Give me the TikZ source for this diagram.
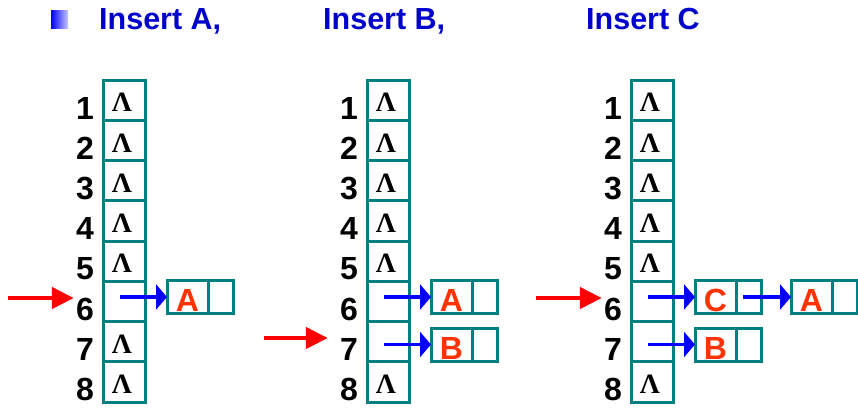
\documentclass[tikz,border=0pt]{standalone}
\usepackage{fontspec}
\setmainfont{Liberation Sans}
\newfontfamily\lamfont{Liberation Serif}
\usetikzlibrary{arrows.meta}
\definecolor{boxteal}{RGB}{0,128,128}
\definecolor{headblue}{RGB}{0,0,204}
\definecolor{keyred}{RGB}{255,51,0}
\definecolor{ptrblue}{RGB}{0,0,255}
\definecolor{ptrred}{RGB}{255,0,0}
\newcommand\nilmark{{\lamfont\bfseries Λ}}
\begin{document}
\begin{tikzpicture}[x=1pt,y=-1pt,
  slot/.style={draw=boxteal,line width=3pt,minimum width=42pt,minimum height=40.25pt,
    inner sep=0pt,outer sep=0pt},
  nilnode/.style={inner sep=0pt,text height=23.5pt,text depth=0pt,xshift=-2pt,
    font=\fontsize{28}{28}\selectfont},
  idx/.style={anchor=east,inner sep=0pt,font=\fontsize{32}{32}\selectfont\bfseries},
  keybox/.style={draw=boxteal,line width=3pt,minimum width=41pt,minimum height=33pt,
    inner sep=0pt,outer sep=0pt,anchor=west,text=keyred,text height=29pt,text depth=0pt,
    font=\fontsize{32}{32}\selectfont\bfseries},
  linkbox/.style={draw=boxteal,line width=3pt,minimum width=25pt,minimum height=33pt,
    inner sep=0pt,outer sep=0pt,anchor=west},
  bptr/.style={draw=ptrblue,line width=3.2pt,-{Triangle[length=11pt,width=25pt]}},
  rptr/.style={draw=ptrred,line width=4.5pt,-{Triangle[length=22pt,width=21pt]}},
  title/.style={anchor=base west,inner sep=0pt,text=headblue,
    font=\fontsize{30.5}{30.5}\selectfont\bfseries},
  bullet/.style={minimum width=17pt,minimum height=18pt,inner sep=0pt,
    left color=ptrblue,right color=ptrblue!22}]
\useasboundingbox (0,0) rectangle (858,407);

% headings
\node[bullet] (bul) at (59.5,19) {};
\node[title] (ta) at (99,29) {Insert A,};
\node[title] (tb) at (323,29) {Insert B,};
\node[title] (tc) at (586,29) {Insert C};

% hash tables with slot numbers
\foreach \c/\x in {a/124,b/388,c/652} {
  \foreach \i in {1,...,8} {
    \node[slot] (\c\i) at (\x,{80+40.25*(\i-0.5)}) {};
    \node[idx] (\c n\i) at ({\x-30},{80+40.25*(\i-0.5)+8}) {\i};
  }
}

% empty slot markers
\foreach \i in {1,2,3,4,5,7,8} \node[nilnode] (al\i) at (a\i) {\nilmark};
\foreach \i in {1,2,3,4,5,8} \node[nilnode] (bl\i) at (b\i) {\nilmark};
\foreach \i in {1,2,3,4,5,8} \node[nilnode] (cl\i) at (c\i) {\nilmark};

% list elements
\node[keybox] (akA) at (167,297) {A};
\node[linkbox] (apA) at (akA.east) {};

\node[keybox] (bkA) at (431,297) {A};
\node[linkbox] (bpA) at (bkA.east) {};
\node[keybox] (bkB) at (431,344.5) {B};
\node[linkbox] (bpB) at (bkB.east) {};

\node[keybox] (ckC) at (695,297) {C};
\node[linkbox] (cpC) at (ckC.east) {};
\node[keybox] (ckA) at (791,297) {A};
\node[linkbox] (cpA) at (ckA.east) {};
\node[keybox] (ckB) at (695,344.5) {B};
\node[linkbox] (cpB) at (ckB.east) {};

% chain pointers
\draw[bptr] ([xshift=17pt]a6.west |- akA.west) -- (akA.west);
\draw[bptr] ([xshift=17pt]b6.west |- bkA.west) -- (bkA.west);
\draw[bptr] ([xshift=17pt]b7.west |- bkB.west) -- (bkB.west);
\draw[bptr] ([xshift=17pt]c6.west |- ckC.west) -- (ckC.west);
\draw[bptr] ([xshift=17pt]c7.west |- ckB.west) -- (ckB.west);
\draw[bptr] ([xshift=7pt]cpC.west) -- (ckA.west);

% insertion position markers
\coordinate (ra) at (8,298);
\coordinate (rb) at (264,338);
\coordinate (rc) at (536,298);
\draw[rptr] (ra) -- ([xshift=-2pt]ra -| an6.west);
\draw[rptr] (rb) -- ([xshift=-12pt]rb -| bn7.west);
\draw[rptr] (rc) -- ([xshift=-2pt]rc -| cn6.west);
\end{tikzpicture}
\end{document}
